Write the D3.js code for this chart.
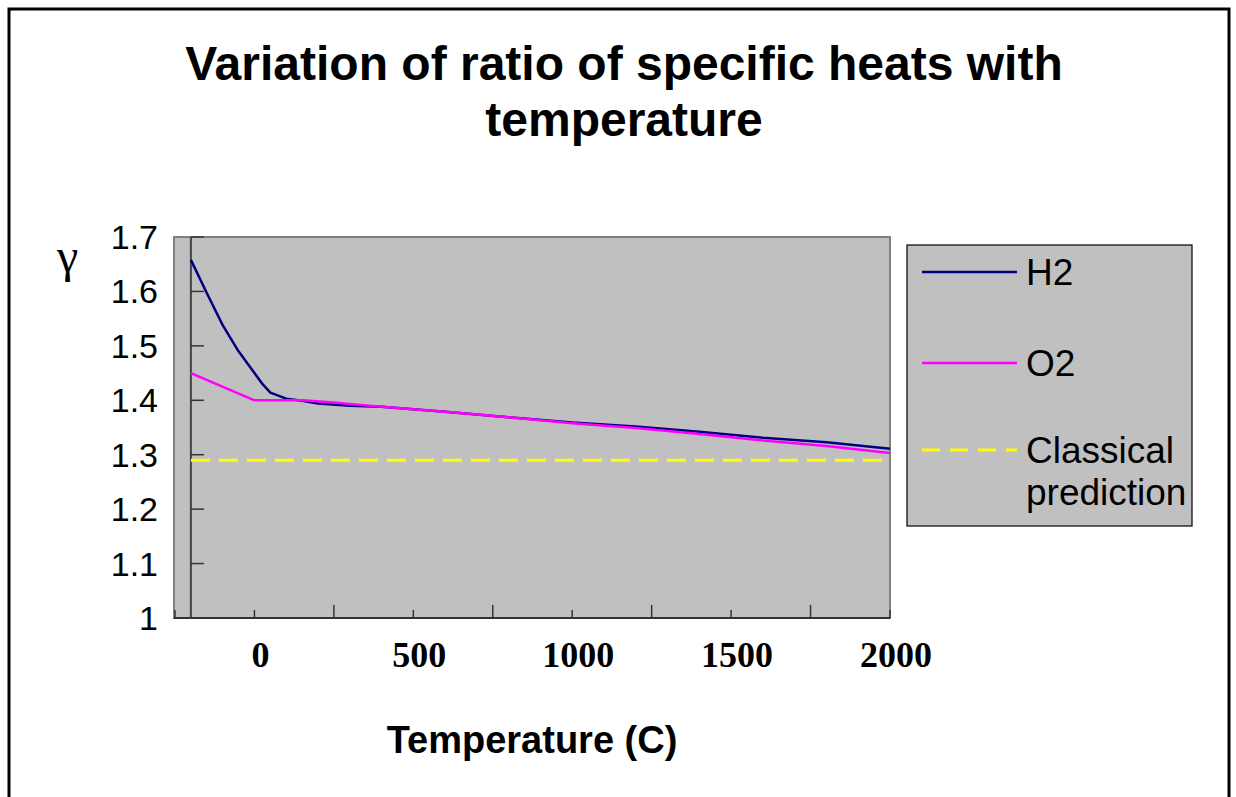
<!DOCTYPE html>
<html>
<head>
<meta charset="utf-8">
<script src="https://cdn.jsdelivr.net/npm/d3@7"></script>
<style>
  html, body { margin: 0; padding: 0; background: #fff; }
  svg { display: block; }
</style>
</head>
<body>
<svg id="chart" width="1236" height="797"></svg>
<script>
// ---- data ----
const titleLines = ["Variation of ratio of specific heats with", "temperature"];
const xLabel = "Temperature (C)";
const yLabel = "γ";
const seriesNames = ["H2", "O2", "Classical prediction"];
const seriesColors = ["#000080", "#FF00FF", "#FFFF00"];

const h2Temp  = [-200, -150, -100, -50, 0, 25, 50, 100, 150, 200, 300, 400, 600, 800, 1000, 1200, 1400, 1600, 1800, 2000];
const h2Gamma = [1.658, 1.597, 1.538, 1.490, 1.450, 1.430, 1.414, 1.403, 1.399, 1.394, 1.390, 1.388, 1.379, 1.369, 1.359, 1.352, 1.342, 1.331, 1.323, 1.311];

const o2Temp  = [-200, 0, 150, 250, 300, 400, 600, 800, 1000, 1200, 1400, 1600, 1800, 2000];
const o2Gamma = [1.450, 1.400, 1.400, 1.396, 1.393, 1.388, 1.379, 1.369, 1.358, 1.349, 1.338, 1.326, 1.316, 1.303];

const classicalTemp  = [-200, 2000];
const classicalGamma = [1.29, 1.29];

const xTickLabels = [0, 500, 1000, 1500, 2000];
const xMinorTicks = [-250, 250, 750, 1250, 1750];
const yTicks = [1, 1.1, 1.2, 1.3, 1.4, 1.5, 1.6, 1.7];

// ---- layout ----
const svg = d3.select("#chart");
const plot = { left: 174, right: 890, top: 237, bottom: 618 };
const axisX0 = -200; // where the vertical axis crosses

const x = d3.scaleLinear().domain([-250, 2000]).range([175, 890]);
const y = d3.scaleLinear().domain([1, 1.7]).range([618, 237]);

// outer border
svg.append("rect")
  .attr("x", 9).attr("y", 9).attr("width", 1220).attr("height", 800)
  .attr("fill", "#fff").attr("stroke", "#000").attr("stroke-width", 3);

// title
svg.append("text")
  .attr("x", 624).attr("y", 80)
  .attr("text-anchor", "middle")
  .attr("font-family", "Liberation Sans, Arial, sans-serif")
  .attr("font-weight", "bold").attr("font-size", 48)
  .selectAll("tspan").data(titleLines).join("tspan")
  .attr("x", 624).attr("dy", (d, i) => i === 0 ? 0 : 56)
  .text(d => d);

// plot area
svg.append("rect")
  .attr("x", plot.left).attr("y", plot.top)
  .attr("width", plot.right - plot.left).attr("height", plot.bottom - plot.top)
  .attr("fill", "#C0C0C0").attr("stroke", "#808080").attr("stroke-width", 2);

// x axis (ticks pointing up into plot)
const xAxisG = svg.append("g").attr("transform", `translate(0,${y(1)})`);
xAxisG.append("line")
  .attr("x1", plot.left).attr("x2", plot.right)
  .attr("stroke", "#333").attr("stroke-width", 2);
xAxisG.selectAll("line.major").data(xTickLabels).join("line")
  .attr("class", "major")
  .attr("x1", d => x(d)).attr("x2", d => x(d))
  .attr("y1", 0).attr("y2", -8)
  .attr("stroke", "#333").attr("stroke-width", 1.5);
xAxisG.selectAll("line.minor").data(xMinorTicks).join("line")
  .attr("class", "minor")
  .attr("x1", d => x(d)).attr("x2", d => x(d))
  .attr("y1", 0).attr("y2", d => d === -250 ? -8 : -13)
  .attr("stroke", "#333").attr("stroke-width", 1.5);
xAxisG.selectAll("text").data(xTickLabels).join("text")
  .attr("x", d => x(d) + 6).attr("y", 49)
  .attr("text-anchor", "middle")
  .attr("font-family", "Liberation Serif, Times New Roman, serif")
  .attr("font-weight", "bold").attr("font-size", 36)
  .text(d => d);

// y axis at x = -200
const yAxisG = svg.append("g").attr("transform", `translate(${x(axisX0)},0)`);
yAxisG.append("line")
  .attr("y1", y(1.7)).attr("y2", y(1))
  .attr("stroke", "#444").attr("stroke-width", 2);
yAxisG.selectAll("line.tick").data(yTicks).join("line")
  .attr("class", "tick")
  .attr("x1", 0).attr("x2", 13)
  .attr("y1", d => y(d)).attr("y2", d => y(d))
  .attr("stroke", "#333").attr("stroke-width", 1.5);

svg.append("g").selectAll("text").data(yTicks).join("text")
  .attr("x", 158).attr("y", d => y(d) + 12)
  .attr("text-anchor", "end")
  .attr("font-family", "Liberation Sans, Arial, sans-serif")
  .attr("font-size", 34)
  .text(d => d3.format(".1~f")(d));

// gamma symbol
svg.append("text")
  .attr("x", 57).attr("y", 272)
  .attr("font-family", "Liberation Serif, Times New Roman, serif")
  .attr("font-size", 48)
  .text(yLabel);

// x axis title
svg.append("text")
  .attr("x", 532).attr("y", 753)
  .attr("text-anchor", "middle")
  .attr("font-family", "Liberation Sans, Arial, sans-serif")
  .attr("font-weight", "bold").attr("font-size", 38)
  .text(xLabel);

// lines
const line = d3.line().x(d => x(d[0])).y(d => y(d[1]));
const classical = d3.zip(classicalTemp, classicalGamma);
const o2 = d3.zip(o2Temp, o2Gamma);
const h2 = d3.zip(h2Temp, h2Gamma);

svg.append("path").datum(classical).attr("d", line)
  .attr("fill", "none").attr("stroke", seriesColors[2]).attr("stroke-width", 3)
  .attr("stroke-dasharray", "19,9");
svg.append("path").datum(h2).attr("d", line)
  .attr("fill", "none").attr("stroke", seriesColors[0]).attr("stroke-width", 2.5)
  .attr("stroke-linejoin", "round");
svg.append("path").datum(o2).attr("d", line)
  .attr("fill", "none").attr("stroke", seriesColors[1]).attr("stroke-width", 2.5)
  .attr("stroke-linejoin", "round");

// legend
const legend = svg.append("g");
legend.append("rect")
  .attr("x", 907).attr("y", 245).attr("width", 285).attr("height", 281)
  .attr("fill", "#C0C0C0").attr("stroke", "#000").attr("stroke-width", 1.2);
const legendY = [272, 363, 450];
seriesNames.forEach((name, i) => {
  legend.append("line")
    .attr("x1", 922).attr("x2", 1017)
    .attr("y1", legendY[i]).attr("y2", legendY[i])
    .attr("stroke", seriesColors[i]).attr("stroke-width", i === 2 ? 3 : 2.5)
    .attr("stroke-dasharray", i === 2 ? "18,10" : null);
  const t = legend.append("text")
    .attr("x", 1026).attr("y", legendY[i] + 13)
    .attr("font-family", "Liberation Sans, Arial, sans-serif")
    .attr("font-size", 37);
  const parts = name === "Classical prediction" ? ["Classical", "prediction"] : [name];
  t.selectAll("tspan").data(parts).join("tspan")
    .attr("x", 1026).attr("dy", (d, j) => j === 0 ? 0 : 42)
    .text(d => d);
});
</script>
</body>
</html>
